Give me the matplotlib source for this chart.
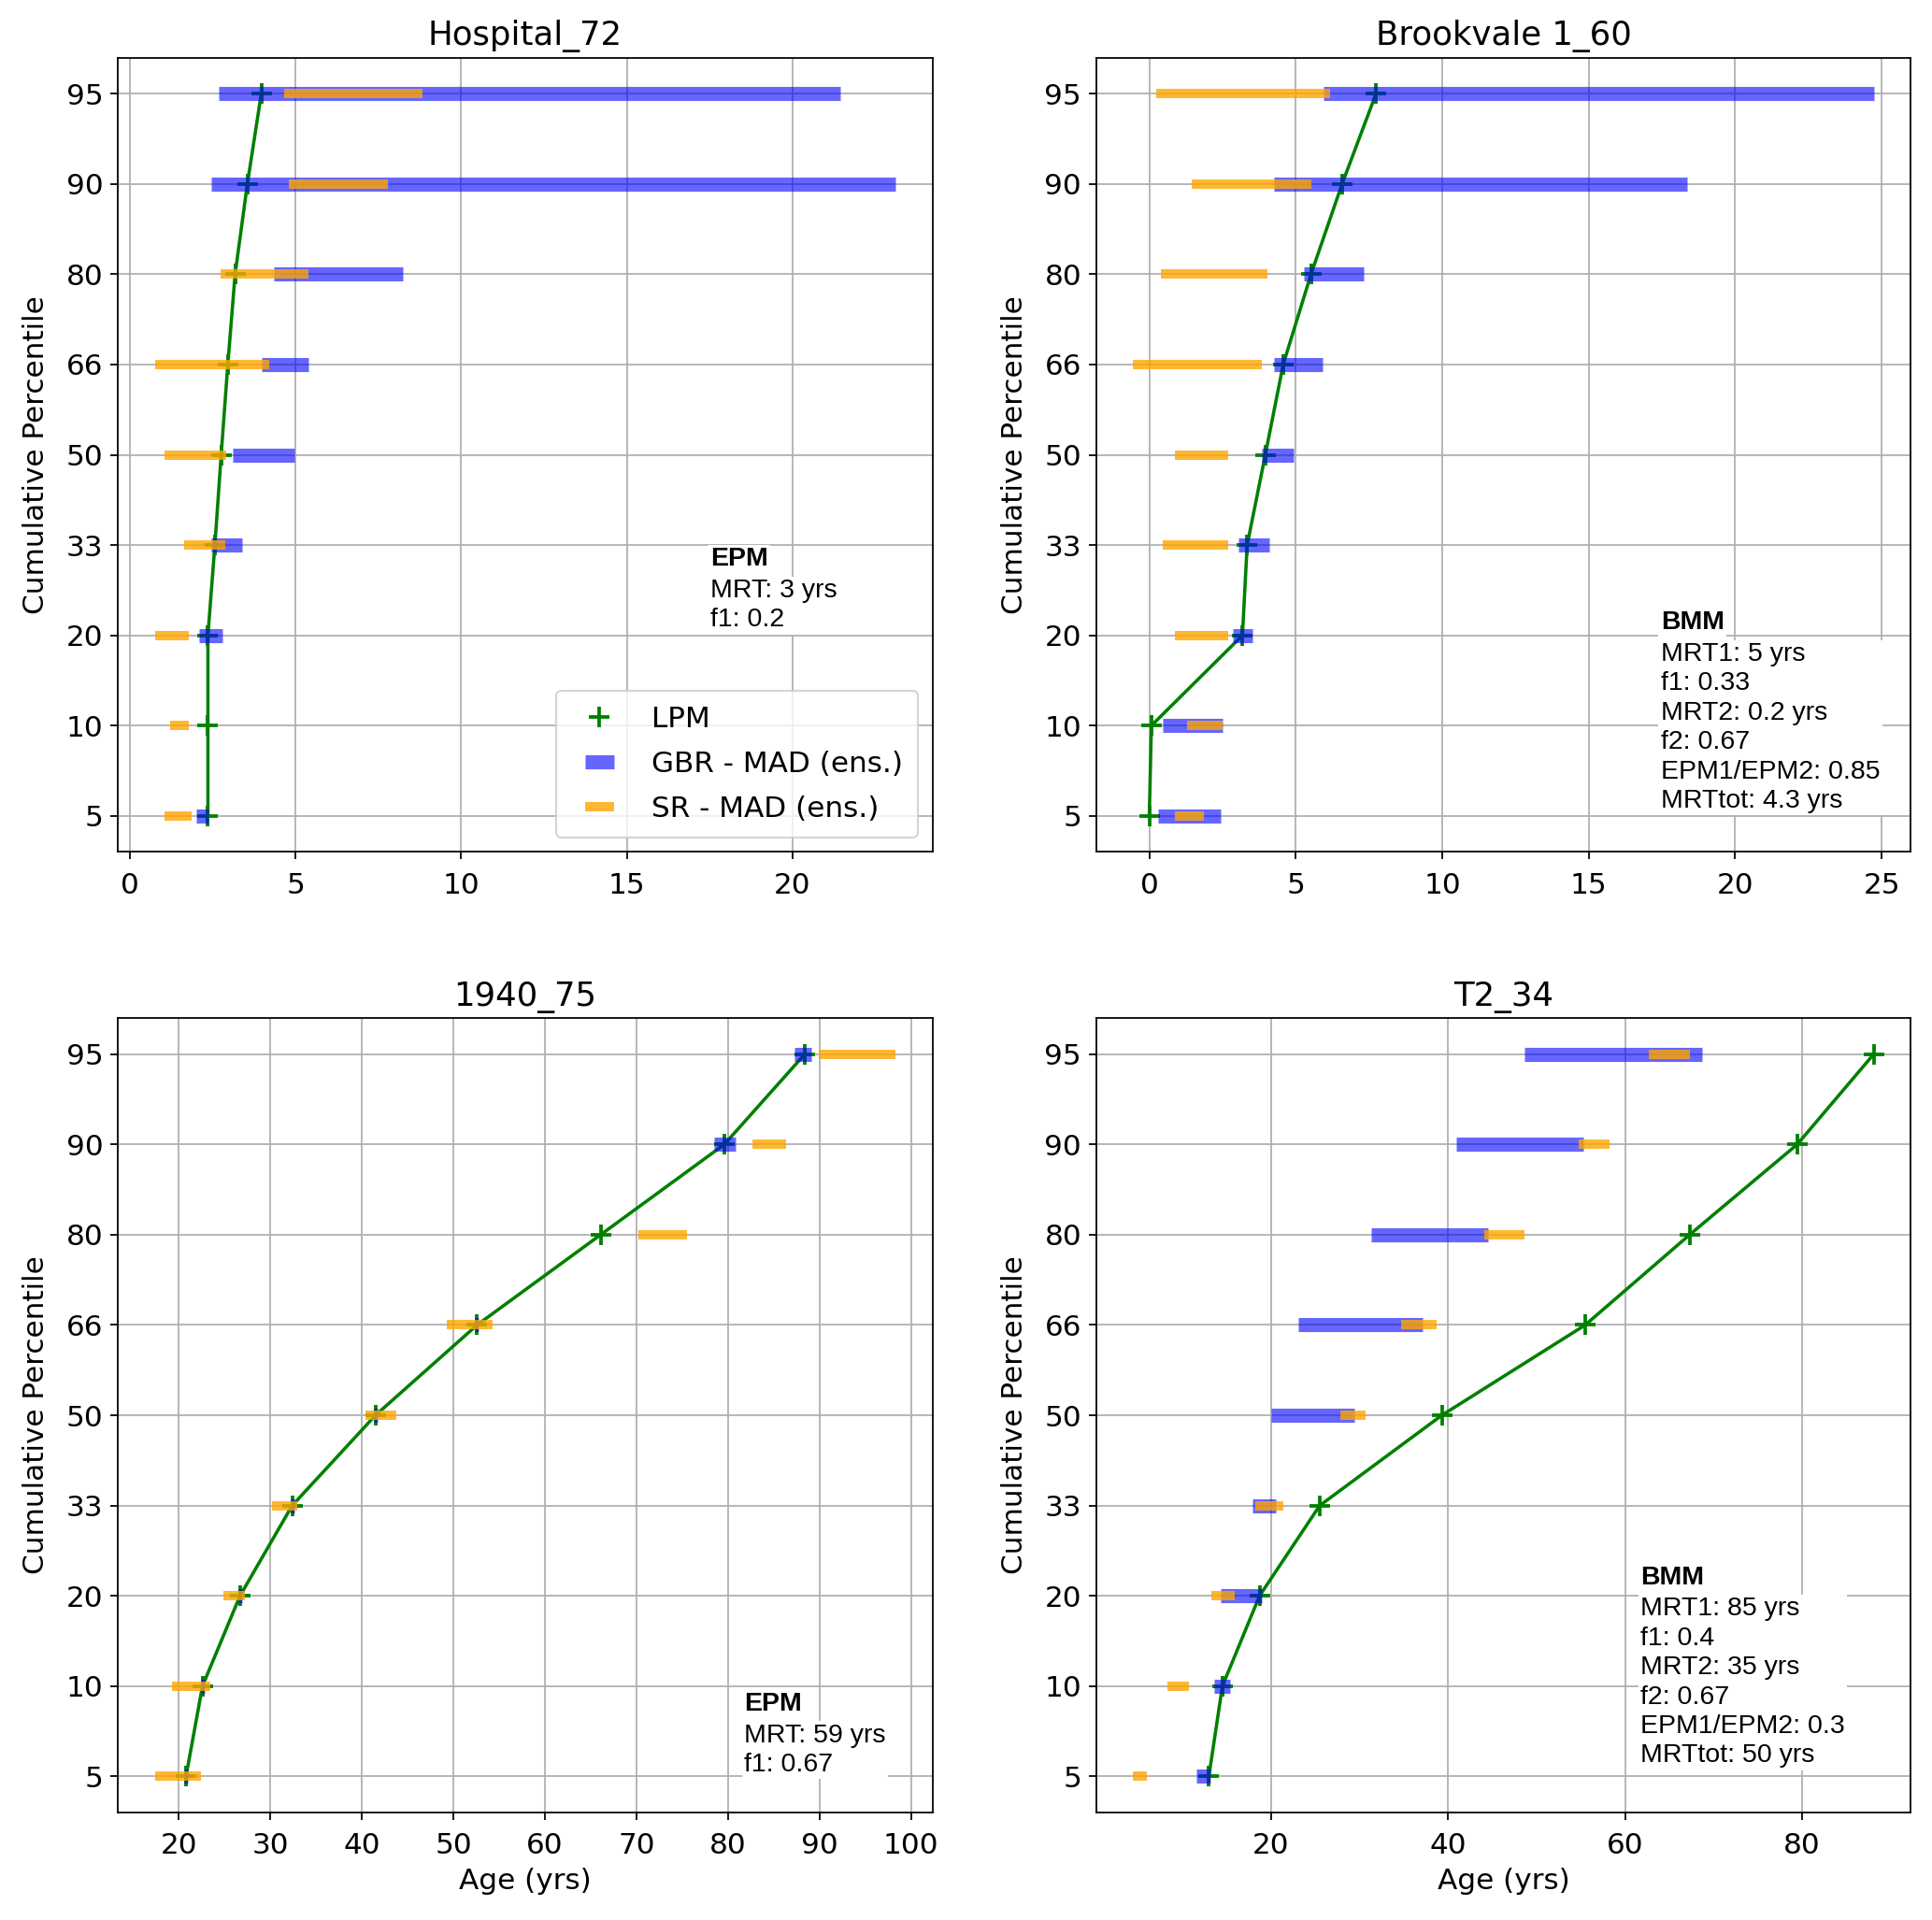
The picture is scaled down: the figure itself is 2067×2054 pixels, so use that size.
import numpy as np
import matplotlib
matplotlib.use("Agg")
import matplotlib.pyplot as plt

# percentile classes on the y axis (bottom -> top)
percentiles = ["5", "10", "20", "33", "50", "66", "80", "90", "95"]

# Hospital_72
lpm_hosp = [2.36, 2.36, 2.36, 2.57, 2.76, 2.96, 3.18, 3.55, 3.97]
gbr_lo_hosp = [2.02, 2.36, 2.08, 2.47, 3.12, 3.99, 4.36, 2.47, 2.68]
gbr_hi_hosp = [2.37, 2.36, 2.81, 3.39, 4.96, 5.38, 8.24, 23.1, 21.44]
sr_lo_hosp = [1.05, 1.21, 0.76, 1.63, 1.05, 0.76, 2.75, 4.80, 4.65]
sr_hi_hosp = [1.87, 1.79, 1.79, 2.88, 2.91, 4.22, 5.38, 7.80, 8.82]

# Brookvale 1_60
lpm_brook = [0.0, 0.07, 3.18, 3.34, 3.96, 4.57, 5.52, 6.58, 7.74]
gbr_lo_brook = [0.31, 0.46, 2.85, 3.03, 3.84, 4.27, 5.28, 4.27, 5.94]
gbr_hi_brook = [2.43, 2.50, 3.51, 4.09, 4.93, 5.92, 7.32, 18.36, 24.73]
sr_lo_brook = [0.88, 1.28, 0.88, 0.46, 0.88, -0.55, 0.40, 1.46, 0.22]
sr_hi_brook = [1.86, 2.50, 2.68, 2.68, 2.68, 3.84, 4.02, 5.52, 6.16]

# 1940_75
lpm_1940 = [20.8, 22.6, 26.7, 32.4, 41.5, 52.6, 66.1, 79.6, 88.4]
gbr_lo_1940 = [20.6, 22.4, 26.5, 32.2, 41.3, 52.4, 66.1, 78.5, 87.3]
gbr_hi_1940 = [21.0, 22.8, 26.9, 32.6, 41.7, 52.8, 66.1, 80.8, 89.1]
sr_lo_1940 = [17.4, 19.3, 24.9, 30.2, 40.4, 49.3, 70.2, 82.7, 89.9]
sr_hi_1940 = [22.4, 23.5, 27.2, 33.0, 43.8, 54.3, 75.5, 86.4, 98.3]

# T2_34
lpm_t2 = [12.97, 14.5, 18.7, 25.5, 39.3, 55.5, 67.3, 79.45, 88.1]
gbr_lo_t2 = [11.6, 13.6, 14.3, 17.9, 20.06, 23.1, 31.3, 40.97, 48.67]
gbr_hi_t2 = [13.1, 15.4, 19.0, 20.5, 29.4, 37.1, 44.5, 55.27, 68.73]
sr_lo_t2 = [4.42, 8.24, 13.2, 18.2, 27.8, 34.7, 44.1, 54.8, 62.7]
sr_hi_t2 = [6.0, 10.7, 15.9, 21.4, 30.7, 38.7, 48.6, 58.2, 67.3]

titles = ["Hospital_72", "Brookvale 1_60", "1940_75", "T2_34"]

# model notes (bold header + lines)
note_heads = ["EPM", "BMM", "EPM", "BMM"]
note_bodies = [
    "MRT: 3 yrs\nf1: 0.2",
    "MRT1: 5 yrs\nf1: 0.33\nMRT2: 0.2 yrs\nf2: 0.67\nEPM1/EPM2: 0.85\nMRTtot: 4.3 yrs",
    "MRT: 59 yrs\nf1: 0.67",
    "MRT1: 85 yrs\nf1: 0.4\nMRT2: 35 yrs\nf2: 0.67\nEPM1/EPM2: 0.3\nMRTtot: 50 yrs",
]
note_pos = [(0.727, 0.384), (0.693, 0.304), (0.769, 0.152), (0.668, 0.311)]

panels = [
    (lpm_hosp, gbr_lo_hosp, gbr_hi_hosp, sr_lo_hosp, sr_hi_hosp),
    (lpm_brook, gbr_lo_brook, gbr_hi_brook, sr_lo_brook, sr_hi_brook),
    (lpm_1940, gbr_lo_1940, gbr_hi_1940, sr_lo_1940, sr_hi_1940),
    (lpm_t2, gbr_lo_t2, gbr_hi_t2, sr_lo_t2, sr_hi_t2),
]

plt.rcParams["font.size"] = 14

fig, axes = plt.subplots(2, 2, figsize=(2067 / 160, 2054 / 160), dpi=160)
fig.subplots_adjust(left=0.061, right=0.989, top=0.970, bottom=0.056,
                    wspace=0.201, hspace=0.209)

ypos = np.arange(len(percentiles))

for i, ax in enumerate(axes.flat):
    lpm, g_lo, g_hi, s_lo, s_hi = [np.array(a, dtype=float) for a in panels[i]]

    # LPM curve + markers
    ax.plot(lpm, ypos, color="green", lw=1.6)
    ax.plot(lpm, ypos, "+", color="green", ms=10, mew=1.7, ls="none", label="LPM")

    # ensemble median +/- MAD intervals
    ax.errorbar((g_lo + g_hi) / 2, ypos, xerr=(g_hi - g_lo) / 2, fmt="none",
                ecolor="blue", elinewidth=6.8, capsize=0, alpha=0.6,
                label="GBR - MAD (ens.)")
    ax.errorbar((s_lo + s_hi) / 2, ypos, xerr=(s_hi - s_lo) / 2, fmt="none",
                ecolor="orange", elinewidth=4.5, capsize=0, alpha=0.8,
                label="SR - MAD (ens.)")

    ax.set_yticks(ypos)
    ax.set_yticklabels(percentiles)
    ax.tick_params(axis="x", pad=6)
    ax.set_title(titles[i], fontsize=16)
    ax.set_ylabel("Cumulative Percentile", labelpad=8)
    if i >= 2:
        ax.set_xlabel("Age (yrs)")
    ax.grid(True)

    x0, y0 = note_pos[i]
    ax.text(x0, y0, note_heads[i], transform=ax.transAxes, va="top", ha="left",
            fontsize=12.8, fontweight="bold", family="Liberation Sans",
            bbox=dict(facecolor="white", edgecolor="none", pad=1))
    ax.annotate(note_bodies[i], xy=(x0, y0), xycoords="axes fraction",
                xytext=(0, -15.2), textcoords="offset points", va="top", ha="left",
                fontsize=12.8, family="Liberation Sans", linespacing=1.27,
                bbox=dict(facecolor="white", edgecolor="none", pad=1))

    if i == 0:
        ax.legend(loc="lower right", labelspacing=0.62, borderpad=0.5)

fig.savefig("out.png", dpi=160)
